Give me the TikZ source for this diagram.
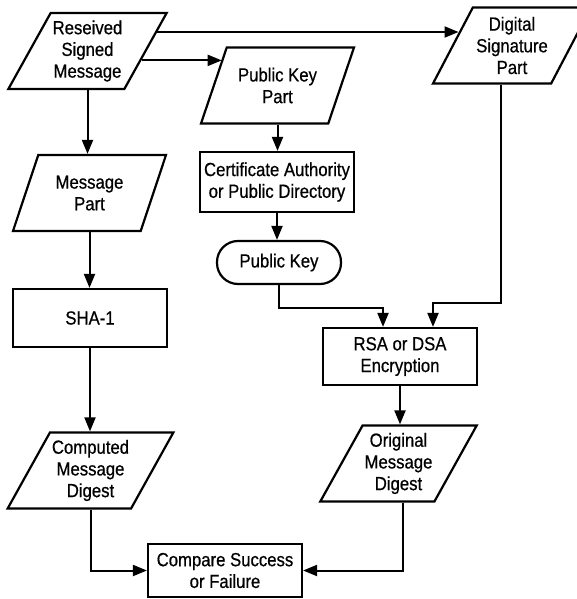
\documentclass[tikz,border=0pt]{standalone}
\usepackage{fontspec}
\setmainfont[FakeStretch=0.88,FakeBold=0.6]{Liberation Sans}
\usetikzlibrary{shapes.geometric,arrows.meta,calc}
\tikzset{
  txt/.style={font=\fontsize{19}{21.7}\selectfont, align=center, inner sep=2pt},
  para/.style={txt, draw, line width=2.2pt, trapezium, trapezium left angle=57, trapezium right angle=123,
    trapezium stretches body, minimum width=153pt, minimum height=76pt},
  procbox/.style={txt, draw, line width=2.2pt, rectangle, minimum width=154pt},
  termbox/.style={txt, draw, line width=2.2pt, rectangle, rounded corners=21pt, minimum width=124pt, minimum height=43pt},
  arr/.style={line width=2pt, -{Triangle[length=14pt,width=11pt]}},
  ln/.style={line width=2pt}
}
\begin{document}
\begin{tikzpicture}[x=1pt,y=-1pt]
\useasboundingbox (0,0) rectangle (577,599);
\fill[white] (0,0) rectangle (577,599);
\node[para] (rec) at (87.5,51) {Reseived\\Signed\\Message};
\node[para] (msg) at (89.5,193) {Message\\Part};
\node[procbox, minimum height=58pt] (sha) at (90,318) {SHA-1};
\node[para] (comp) at (90.5,470.5) {Computed\\Message\\Digest};
\node[procbox, minimum height=53pt] (cmp) at (225,570.5) {Compare Success\\or Failure};
\node[para] (pkp) at (277.5,85.5) {Public Key\\Part};
\node[procbox, minimum height=60pt] (cert) at (277,182) {Certificate Authority\\or Public Directory};
\node[termbox] (pk) at (279,262.5) {Public Key};
\node[para, minimum width=158pt] (dsp) at (512,45.5) {Digital\\Signature\\Part};
\node[procbox, minimum height=57pt] (rsa) at (400,356.5) {RSA or DSA\\Encryption};
\node[para] (orig) at (398.5,463.5) {Original\\Message\\Digest};

% connectors
\coordinate (s1) at ($(rec.top right corner)!0.257!(rec.bottom right corner)$);
\coordinate (e1) at ($(dsp.top left corner)!0.333!(dsp.bottom left corner)$);
\draw[arr] (s1) -- (s1 -| e1);
\coordinate (s2) at ($(rec.top right corner)!0.62!(rec.bottom right corner)$);
\coordinate (e2) at ($(pkp.top left corner)!0.16!(pkp.bottom left corner)$);
\draw[arr] (s2) -- (s2 -| e2);
\draw[arr] (rec.south) -- (rec.south |- msg.north);
\draw[arr] (msg.south) -- (msg.south |- sha.north);
\draw[arr] (sha.south) -- (sha.south |- comp.north);
\draw[arr] (comp.south) |- (cmp.west);
\draw[arr] (pkp.south) -- (pkp.south |- cert.north);
\draw[arr] (cert.south) -- (cert.south |- pk.north);
\draw[arr] (pk.south) -- ++(0,23) -| ([xshift=-17pt]rsa.north);
\draw[arr] ([xshift=-11.5pt]dsp.south) -- ++(0,218) -| ([xshift=33pt]rsa.north);
\draw[arr] (rsa.south) -- (rsa.south |- orig.north);
\draw[arr] ([xshift=4.5pt]orig.south) |- (cmp.east);
\end{tikzpicture}
\end{document}
